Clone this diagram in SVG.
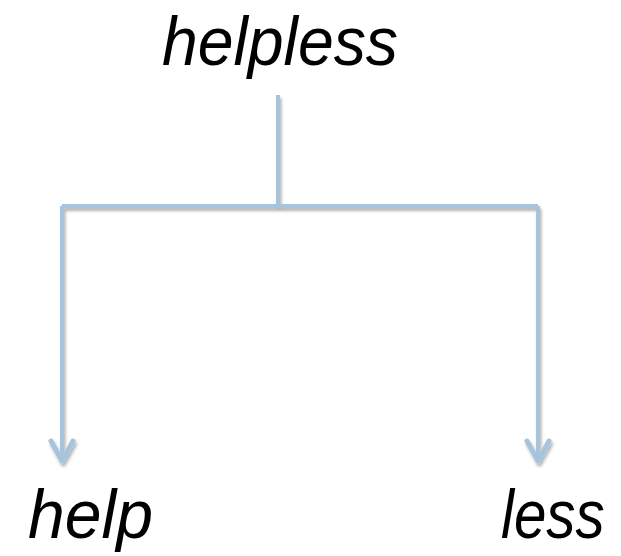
<svg xmlns="http://www.w3.org/2000/svg" width="621" height="556" viewBox="0 0 621 556">
  <style>
    .lbl { font-family: "Liberation Sans", Arial, sans-serif; font-style: italic; font-size: 69px; fill: #000; }
    .conn { fill: none; stroke: #a6c4de; stroke-width: 4; }
    .head { fill: none; stroke: #a6c4de; stroke-width: 5; stroke-linecap: round; stroke-linejoin: round; }
  </style>
  <defs>
    <filter id="shadow" x="-20%" y="-20%" width="140%" height="140%">
      <feDropShadow dx="1.5" dy="3" stdDeviation="1.5" flood-color="#000" flood-opacity="0.3"/>
    </filter>
  </defs>
  <rect width="621" height="556" fill="#fff"/>
  <g id="connectors" filter="url(#shadow)">
    <path class="conn" d="M278,95 V206"/>
    <path class="conn" d="M62,206 H538"/>
    <path class="conn" d="M62,206 V459"/>
    <path class="conn" d="M538,206 V459"/>
    <polyline class="head" points="51,441 62,461 73,441"/>
    <polyline class="head" points="527,441 538,461 549,441"/>
  </g>
  <g id="node-helpless">
    <text class="lbl" x="162" y="65" textLength="236" lengthAdjust="spacingAndGlyphs">helpless</text>
  </g>
  <g id="node-help">
    <text class="lbl" x="28" y="538" textLength="125" lengthAdjust="spacingAndGlyphs">help</text>
  </g>
  <g id="node-less">
    <text class="lbl" transform="translate(501,538) scale(0.845,1)" x="0" y="0">less</text>
  </g>
</svg>
